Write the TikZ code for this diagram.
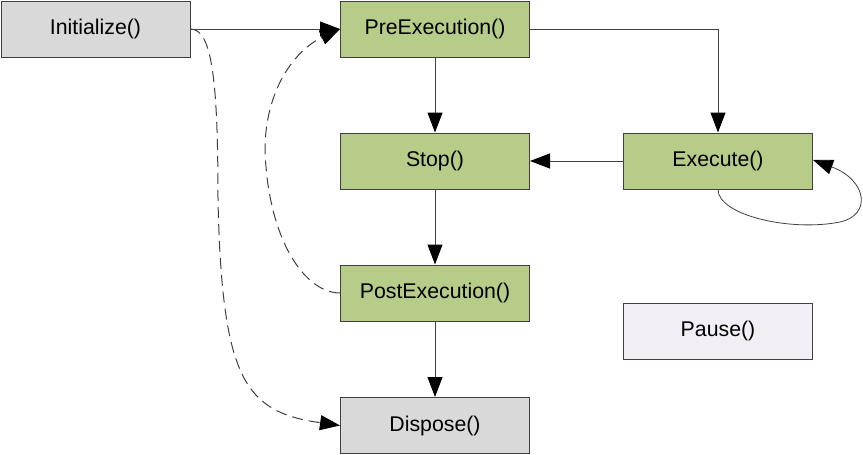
\documentclass[tikz,border=0pt]{standalone}
\usepackage{fontspec}
\setmainfont{Liberation Sans}
\usetikzlibrary{arrows.meta}
\definecolor{boxgreen}{HTML}{B7CC88}
\definecolor{boxgray}{HTML}{D9D9D9}
\definecolor{boxlav}{HTML}{F1EFF5}
\definecolor{edge}{HTML}{404040}
\tikzset{
  stepbox/.style={draw=edge, line width=1pt, minimum width=189pt, minimum height=56pt,
    inner sep=0pt, font=\fontsize{21.3}{25}\selectfont},
  greenbox/.style={stepbox, fill=boxgreen},
  graybox/.style={stepbox, fill=boxgray},
  lavbox/.style={stepbox, fill=boxlav},
  conn/.style={draw=edge, line width=1pt, -{Triangle[length=20pt,width=15pt,color=black]}},
  dconn/.style={conn, dash pattern=on 11pt off 6pt},
}
\begin{document}
\begin{tikzpicture}[x=1pt,y=-1pt]
\useasboundingbox (0,0) rectangle (863,455);
\node[graybox]  (init)  at (95.5,29)  {Initialize()};
\node[greenbox] (pre)   at (435,29)   {PreExecution()};
\node[greenbox] (stop)  at (435,161)  {Stop()};
\node[greenbox] (exec)  at (718,161)  {Execute()};
\node[greenbox] (post)  at (435,293)  {PostExecution()};
\node[lavbox]   (pause) at (718,331)  {Pause()};
\node[graybox]  (disp)  at (435,425.5) {Dispose()};

\draw[conn] (init.east) -- (pre.west);
\draw[conn] (pre.south) -- (stop.north);
\draw[conn] (stop.south) -- (post.north);
\draw[conn] (post.south) -- (disp.north);
\draw[conn] (exec.west) -- (stop.east);
\draw[conn] (pre.east) -| (exec.north);
\draw[conn, line width=0.8pt] (exec.south) .. controls (718,215) and (790,232) .. (840,222)
   .. controls (872,215) and (867,180) .. ([yshift=1pt]exec.east);
\draw[dconn] (init.east) .. controls (212,29) and (218,80) .. (218,200)
   .. controls (222,380) and (245,412) .. (disp.west);
\draw[dconn] (post.west) .. controls (305,293) and (268,240) .. (265,150)
   .. controls (265,90) and (295,50) .. (pre.west);
\end{tikzpicture}
\end{document}
